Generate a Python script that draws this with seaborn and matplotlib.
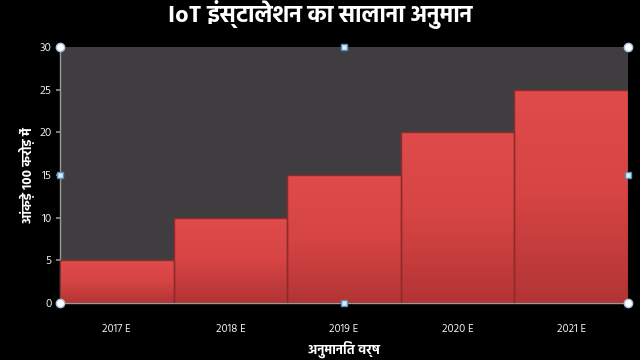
import matplotlib
matplotlib.use("Agg")
import matplotlib.pyplot as plt
import seaborn as sns
import pandas as pd
import numpy as np
from matplotlib import font_manager
from matplotlib.colors import LinearSegmentedColormap

categories = ["2017 E", "2018 E", "2019 E", "2020 E", "2021 E"]
values = [5, 10, 15, 20, 25]
yticks = [0, 5, 10, 15, 20, 25, 30]
title = "IoT इंस्टालेशन का सालाना अनुमान"
xlabel = "अनुमानित वर्ष"
ylabel = "आंकड़े 100 करोड़ में"

available = {f.name for f in font_manager.fontManager.ttflist}
prefs = ["Hind", "Khula", "Biryani", "Amiko"]
deva = [p for p in prefs if p in available][:1]

sns.set_theme(style="dark")
plt.rcParams["font.family"] = deva + ["DejaVu Sans"]

df = pd.DataFrame({"year": categories, "value": values})

fig = plt.figure(figsize=(6.4, 3.6), dpi=100, facecolor="black")
ax = fig.add_axes([0.09375, 0.1583, 0.8875, 0.7111])
ax.set_facecolor("#403d40")

sns.barplot(data=df, x="year", y="value", color="#d84444", width=1.0,
            saturation=1, edgecolor="#8e2a2a", linewidth=1, ax=ax, zorder=2)

# vertical gradient inside each bar
cmap = LinearSegmentedColormap.from_list("g", ["#b33434", "#d64444", "#e04b4b"])
grad = np.linspace(0, 1, 256).reshape(-1, 1)
for p in list(ax.patches):
    x0, y0 = p.get_x(), p.get_y()
    w, h = p.get_width(), p.get_height()
    im = ax.imshow(grad, cmap=cmap, origin="lower", aspect="auto",
                   extent=[x0, x0 + w, y0, y0 + h], zorder=2.5)
    im.set_clip_path(p)
    p.set_facecolor("none")
    p.set_zorder(3)

ax.set_ylim(0, 30)
ax.set_xlim(-0.5, 4.5)
ax.set_yticks(yticks)
ax.set_yticklabels([str(v) for v in yticks], color="#e8e8e8", fontsize=8.5)
ax.tick_params(axis="y", left=True, length=3, color="#909090", pad=3)
ax.tick_params(axis="x", bottom=False, labelsize=8, pad=9)
for lbl in ax.get_xticklabels():
    lbl.set_color("#f0f0f0")
ax.grid(False)
for s in ["top", "right"]:
    ax.spines[s].set_visible(False)
for s in ["left", "bottom"]:
    ax.spines[s].set_color("#9a9a9a")
    ax.spines[s].set_linewidth(1)

ax.set_xlabel(xlabel, color="white", fontsize=9.5, fontweight="bold", labelpad=5)
ax.set_ylabel(ylabel, color="white", fontsize=9.5, fontweight="bold", labelpad=4)
fig.suptitle(title, color="white", fontsize=17, fontweight="bold", y=1.0)

# selection handles
for (x, y) in [(0, 0), (0, 1), (1, 0), (1, 1)]:
    ax.plot(x, y, marker="o", markersize=6, markerfacecolor="white",
            markeredgecolor="#a9c4dc", transform=ax.transAxes, clip_on=False, zorder=5)
for (x, y) in [(0.5, 0), (0.5, 1), (0, 0.5), (1, 0.5)]:
    ax.plot(x, y, marker="s", markersize=5, markerfacecolor="#d6eaf8",
            markeredgecolor="#5b8db8", transform=ax.transAxes, clip_on=False, zorder=5)

fig.savefig("out.png", dpi=100, facecolor="black")
